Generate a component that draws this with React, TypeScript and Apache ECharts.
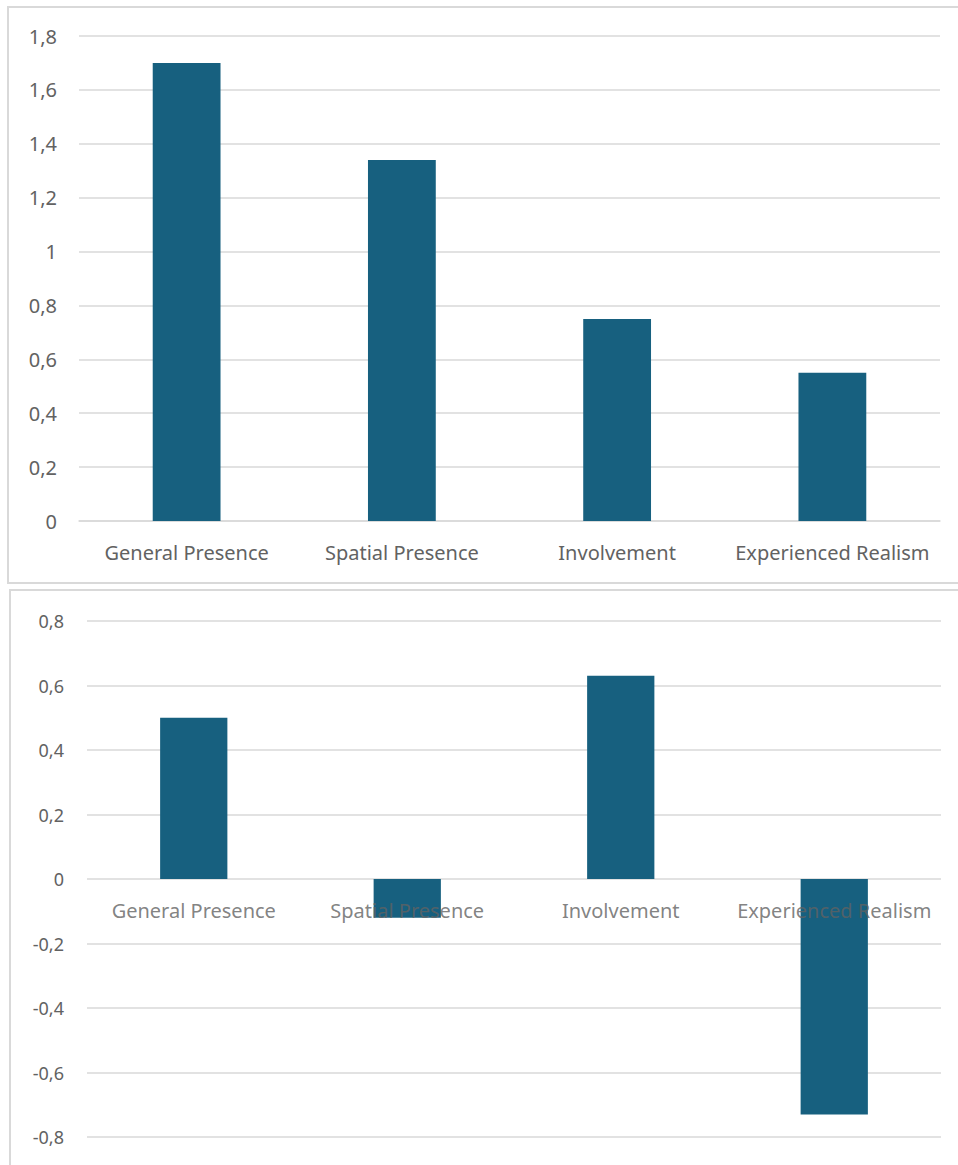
import React, { useEffect, useRef } from "react";
import * as echarts from "echarts";

// Categories shared by both panels
const categories = ["General Presence", "Spatial Presence", "Involvement", "Experienced Realism"];

// Upper panel values
const topValues = [1.7, 1.34, 0.75, 0.55];
// Lower panel values
const bottomValues = [0.5, -0.12, 0.63, -0.73];

// Axis ranges
const topAxis = { min: 0, max: 1.8, interval: 0.2 };
const bottomAxis = { min: -0.8, max: 0.8, interval: 0.2 };

const BAR_COLOR = "#17607f";
const GRID_COLOR = "#d9d9d9";
const TEXT_COLOR = "#626262";
const FONT = "'Noto Sans', 'Open Sans', sans-serif";

// Decimal comma formatting for tick labels
const fmt = (v: number) => {
  const r = Math.round(v * 10) / 10;
  if (Math.abs(r) < 1e-9) return "0";
  if (Number.isInteger(r)) return String(r);
  return r.toFixed(1).replace(".", ",");
};

export default function App() {
  const ref = useRef<HTMLDivElement>(null);

  useEffect(() => {
    document.body.style.margin = "0";
    const chart = echarts.init(ref.current!, undefined, { renderer: "svg" });

    const yAxisCommon = {
      type: "value" as const,
      axisLine: { show: false },
      axisTick: { show: false },
      splitLine: { lineStyle: { color: GRID_COLOR, width: 1.5 } },
    };

    const xLabelStyle = {
      color: TEXT_COLOR,
      fontSize: 20,
      fontFamily: FONT,
    };

    chart.setOption({
      animation: false,
      backgroundColor: "#ffffff",
      graphic: [
        {
          type: "rect",
          shape: { x: 8, y: 7, width: 960, height: 576 },
          style: { fill: "none", stroke: GRID_COLOR, lineWidth: 2 },
          silent: true,
        },
        {
          type: "rect",
          shape: { x: 10, y: 590, width: 960, height: 600 },
          style: { fill: "none", stroke: GRID_COLOR, lineWidth: 2 },
          silent: true,
        },
      ],
      grid: [
        { left: 79, right: 18, top: 36, bottom: 1165 - 521 },
        { left: 87, right: 17, top: 621, bottom: 1165 - 1137 },
      ],
      xAxis: [
        {
          type: "category",
          data: categories,
          gridIndex: 0,
          axisLine: { show: true, lineStyle: { color: GRID_COLOR, width: 1.5 } },
          axisTick: { show: false },
          axisLabel: { ...xLabelStyle, margin: 21, interval: 0 },
        },
        {
          type: "category",
          data: categories,
          gridIndex: 1,
          axisLine: { show: false },
          axisTick: { show: false },
          axisLabel: { show: false },
        },
      ],
      yAxis: [
        {
          ...yAxisCommon,
          gridIndex: 0,
          ...topAxis,
          axisLabel: { color: TEXT_COLOR, fontSize: 20, fontFamily: FONT, margin: 22, formatter: fmt },
        },
        {
          ...yAxisCommon,
          gridIndex: 1,
          ...bottomAxis,
          axisLabel: { color: TEXT_COLOR, fontSize: 18, fontFamily: FONT, margin: 23, formatter: fmt },
        },
      ],
      series: [
        {
          type: "bar",
          xAxisIndex: 0,
          yAxisIndex: 0,
          data: topValues,
          barWidth: "31.5%",
          itemStyle: { color: BAR_COLOR },
        },
        {
          type: "bar",
          xAxisIndex: 1,
          yAxisIndex: 1,
          data: bottomValues,
          barWidth: "31.5%",
          itemStyle: { color: BAR_COLOR },
        },
        // Category names placed just below the zero line of the lower panel
        {
          type: "scatter",
          xAxisIndex: 1,
          yAxisIndex: 1,
          z: 5,
          symbolSize: 0,
          silent: true,
          data: categories.map((c) => [c, 0]),
          label: {
            show: true,
            position: "bottom",
            distance: 21,
            formatter: (p: any) => p.data[0],
            ...xLabelStyle,
          },
        },
      ],
    });

    return () => chart.dispose();
  }, []);

  return <div ref={ref} style={{ width: 958, height: 1165 }} />;
}
